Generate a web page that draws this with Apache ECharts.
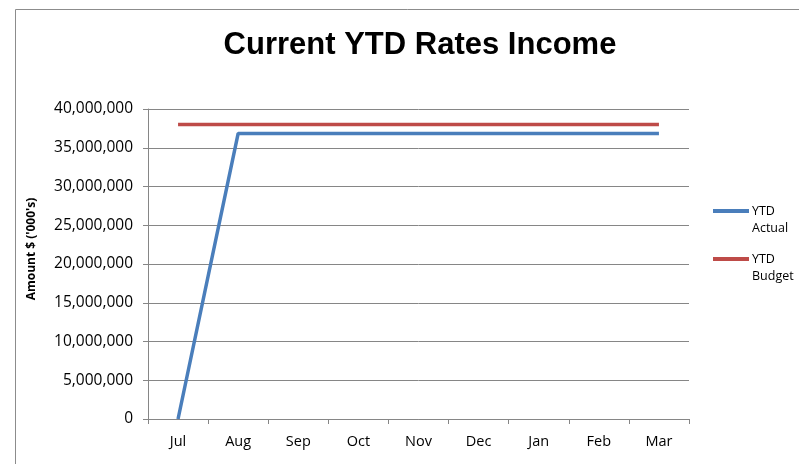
<!DOCTYPE html>
<html>
<head>
<meta charset="utf-8">
<style>
  html, body { margin: 0; padding: 0; background: #fff; }
  #chart { width: 799px; height: 464px; }
</style>
<script src="https://cdn.jsdelivr.net/npm/echarts@6/dist/echarts.min.js"></script>
</head>
<body>
<div id="chart"></div>
<script>
// Months of the financial year
const months = ['Jul', 'Aug', 'Sep', 'Oct', 'Nov', 'Dec', 'Jan', 'Feb', 'Mar'];
// Year-to-date actual rates income
const ytdActual = [0, 36850000, 36850000, 36850000, 36850000, 36850000, 36850000, 36850000, 36850000];
// Year-to-date budget
const ytdBudget = [38000000, 38000000, 38000000, 38000000, 38000000, 38000000, 38000000, 38000000, 38000000];

const seriesNames = ['YTD\nActual', 'YTD\nBudget'];
const seriesColors = ['#4a7ebb', '#be4b48'];

const tickFont = 'Open Sans, Liberation Sans, sans-serif';
const chart = echarts.init(document.getElementById('chart'));

// One legend block per series; a blank leading line keeps the icon level with "YTD"
function legendBlock(i, top) {
  return {
    orient: 'vertical',
    left: 713,
    top: top,
    padding: 0,
    itemWidth: 36,
    itemHeight: 4,
    icon: 'rect',
    formatter: n => ' \n' + n,
    data: [{ name: seriesNames[i], itemStyle: { color: seriesColors[i] } }],
    textStyle: { fontFamily: tickFont, fontSize: 12.5, color: '#000', lineHeight: 17, padding: [0, 0, 0, -2] }
  };
}

chart.setOption({
  animation: false,
  backgroundColor: '#fff',
  title: {
    text: 'Current YTD Rates Income',
    left: 415,
    textAlign: 'center',
    top: 25,
    textStyle: { fontFamily: 'Liberation Sans, Arial, sans-serif', fontSize: 31, fontWeight: 'bold', color: '#000' }
  },
  graphic: [{
    type: 'rect',
    shape: { x: 15.5, y: 9.5, width: 900, height: 600 },
    style: { fill: 'none', stroke: '#8c8c8c', lineWidth: 1 },
    silent: true
  }],
  grid: { left: 148, right: 110, top: 109, bottom: 45 },
  legend: [legendBlock(0, 185.5), legendBlock(1, 233.5)],
  xAxis: {
    type: 'category',
    data: months,
    boundaryGap: true,
    axisLine: { lineStyle: { color: '#868686' } },
    axisTick: { show: true, length: 5, lineStyle: { color: '#868686' } },
    axisLabel: { color: '#000', fontFamily: tickFont, fontSize: 14.5, margin: 15 }
  },
  yAxis: {
    type: 'value',
    min: 0,
    max: 40000000,
    interval: 5000000,
    name: "Amount $ ('000's)",
    nameLocation: 'middle',
    nameGap: 110,
    nameRotate: 90,
    nameTextStyle: { fontFamily: tickFont, fontSize: 12, fontWeight: 'bold', color: '#000', padding: [0, 0, 0, 30] },
    axisLine: { show: true, lineStyle: { color: '#868686' } },
    axisTick: { show: true, length: 5, lineStyle: { color: '#868686' } },
    splitLine: { lineStyle: { color: '#868686' } },
    axisLabel: {
      color: '#000', fontFamily: tickFont, fontSize: 15.5, margin: 15,
      formatter: v => v.toLocaleString('en-US')
    }
  },
  series: [
    {
      name: seriesNames[0],
      type: 'line',
      data: ytdActual,
      symbol: 'none',
      lineStyle: { color: seriesColors[0], width: 3.5 },
      itemStyle: { color: seriesColors[0] }
    },
    {
      name: seriesNames[1],
      type: 'line',
      data: ytdBudget,
      symbol: 'none',
      lineStyle: { color: seriesColors[1], width: 3.5 },
      itemStyle: { color: seriesColors[1] }
    }
  ]
});
</script>
</body>
</html>
